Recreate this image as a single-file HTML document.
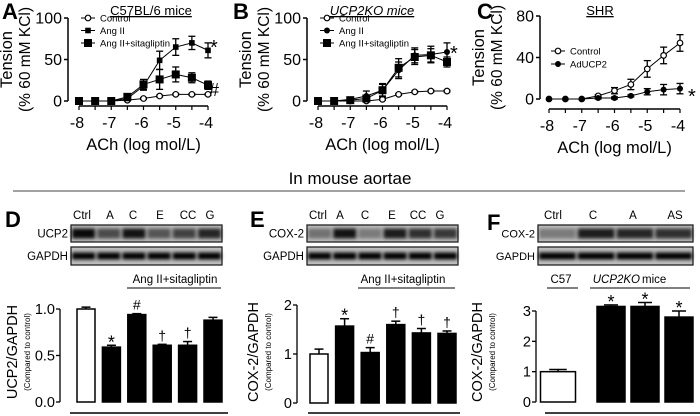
<!DOCTYPE html>
<html><head><meta charset="utf-8"><style>
body{margin:0;background:#fff}
svg{display:block;font-family:"Liberation Sans",Arial,sans-serif}
</style></head><body>
<svg id="fig" width="700" height="416" viewBox="0 0 700 416" xmlns="http://www.w3.org/2000/svg">
<defs>
<filter id="blur" x="-20%" y="-50%" width="140%" height="200%"><feGaussianBlur stdDeviation="1.8"/></filter>
</defs>
<g id="root"></g>
</svg>
<script>
// ---- Data ----
const doses = [-8,-7.5,-7,-6.5,-6,-5.5,-5,-4.5,-4];
const xTicks = [-8,-7,-6,-5,-4];
const aControl = [0,0,0,1,3,6,8,8,8];
const aControlErr = [0,0,0,1,1,1,1,1,1];
const aAng = [0,0,0,3,18,49,65,70,61];
const aAngErr = [0,0,0,2,5,11,10,8,9];
const aSita = [0,0,0,5,20,26,32,28,19];
const aSitaErr = [0,0,1,2,6,12,9,6,5];
const bControl = [0,0,0,0,2,8,11,12,12];
const bControlErr = [0,0,0,0,1,1,1,1,1];
const bAng = [0,0,2,6,13,37,55,56,59];
const bAngErr = [0,0,1,6,8,10,9,10,11];
const bSita = [0,0,1,3,13,40,53,55,47];
const bSitaErr = [0,0,1,3,7,11,9,8,6];
const cControl = [0,0,0,3,8,14,29,42,54];
const cControlErr = [0,0,0,1,3,5,8,8,8];
const cAd = [0,0,0,1,1,3,7,9,10];
const cAdErr = [0,0,0,1,1,1,3,5,5];
const abTicks = [0,50,100];
const cTicks = [0,40,80];
const dCats = ["Ctrl","A","C","E","CC","G"];
const dVals = [1.0,0.59,0.94,0.61,0.61,0.88];
const dErr = [0.02,0.02,0.01,0.01,0.04,0.03];
const dMarks = ["","*","#","†","†",""];
const dTicks = ["0.0","0.5","1.0"];
const eVals = [1.0,1.57,1.03,1.6,1.43,1.42];
const eErr = [0.1,0.15,0.1,0.07,0.09,0.05];
const eMarks = ["","*","#","†","†","†"];
const eTicks = [0,1,2];
const fCats = ["Ctrl","C","A","AS"];
const fVals = [1.0,3.15,3.15,2.8];
const fErr = [0.07,0.05,0.13,0.2];
const fMarks = ["","*","*","*"];
const fTicks = [0,1,2,3];
const dBlotTop = [0.95,0.6,0.9,0.55,0.65,0.8];
const eBlotTop = [0.4,0.9,0.35,0.85,0.75,0.7];
const fBlotTop = [0.35,0.85,0.8,0.75];

const NS="http://www.w3.org/2000/svg";
const root=document.getElementById('root');
function el(tag,attrs,parent,text){const e=document.createElementNS(NS,tag);for(const k in attrs)e.setAttribute(k,attrs[k]);if(text!==undefined)e.textContent=text;(parent||root).appendChild(e);return e;}

function lineChart(o){
  const g=el('g',{});
  
  
  const xs=v=>o.x0+(v+8)/4*(o.x1-o.x0);
  const ys=v=>o.y0-(v/o.ymax)*(o.y0-o.y1);
  const ya=el('line',{x1:o.ax,y1:o.y1,x2:o.ax,y2:o.y0,stroke:'#000','stroke-width':1.5},g);
  
  o.yt.forEach(t=>{el('line',{x1:o.ax-4,y1:ys(t),x2:o.ax,y2:ys(t),stroke:'#000','stroke-width':1.5},g);
    const tl=el('text',{x:o.ax-6,y:ys(t)+5.5,'font-size':16,'text-anchor':'end'},g,t);
    });
  const xa=el('line',{x1:xs(-8),y1:o.xay,x2:xs(-4),y2:o.xay,stroke:'#000','stroke-width':1.5},g);
  
  doses.forEach(d=>el('line',{x1:xs(d),y1:o.xay,x2:xs(d),y2:o.xay+4,stroke:'#000','stroke-width':1.2},g));
  xTicks.forEach(t=>{const tl=el('text',{x:xs(t)-2,y:o.xay+22,'font-size':16,'text-anchor':'middle'},g,t);
    });
  const xt=el('text',{x:(xs(-8)+xs(-4))/2,y:o.xay+44,'font-size':16.5,'text-anchor':'middle'},g,'ACh (log mol/L)');
  
  const yt1=el('text',{transform:`translate(${o.ylx},${(o.y0+o.y1)/2}) rotate(-90)`,'font-size':16.5,'text-anchor':'middle'},g,'Tension');
  
  const yt2=el('text',{transform:`translate(${o.ylx+18},${(o.y0+o.y1)/2}) rotate(-90)`,'font-size':15.5,'text-anchor':'middle'},g,'(% 60 mM KCl)');
  
  o.series.forEach(s=>{
    const sg=el('g',{},g);
    
    const pts=doses.map((d,i)=>xs(d)+','+ys(s.v[i])).join(' ');
    el('polyline',{points:pts,fill:'none',stroke:'#000','stroke-width':1},sg);
    doses.forEach((d,i)=>{
      if(s.e[i]>0){const x=xs(d);
        el('line',{x1:x,y1:ys(s.v[i]+s.e[i]),x2:x,y2:ys(s.v[i]-s.e[i]),stroke:'#000','stroke-width':1.3},sg);
        el('line',{x1:x-3.5,y1:ys(s.v[i]+s.e[i]),x2:x+3.5,y2:ys(s.v[i]+s.e[i]),stroke:'#000','stroke-width':1.3},sg);
        el('line',{x1:x-3.5,y1:ys(s.v[i]-s.e[i]),x2:x+3.5,y2:ys(s.v[i]-s.e[i]),stroke:'#000','stroke-width':1.3},sg);}
      drawMark(sg,s.m,xs(d),ys(s.v[i]));
    });
  });
  o.legend.forEach((l,i)=>{
    const ly=o.ly+i*o.ls;
    const lg=el('g',{},g);
    el('line',{x1:o.lx,y1:ly,x2:o.lx+14,y2:ly,stroke:'#000','stroke-width':1},lg);
    drawMark(lg,l.m,o.lx+7,ly);
    el('text',{x:o.lx+19,y:ly+3.5,'font-size':9.5},lg,l.t);
  });
  return g;
}
function drawMark(p,m,x,y){
  if(m==='open')el('circle',{cx:x,cy:y,r:2.8,fill:'#fff',stroke:'#000','stroke-width':1.2},p);
  else if(m==='dot')el('circle',{cx:x,cy:y,r:3,fill:'#000'},p);
  else if(m==='sq')el('rect',{x:x-2.8,y:y-2.8,width:5.6,height:5.6,fill:'#000'},p);
  else if(m==='big')el('rect',{x:x-4,y:y-4,width:8,height:8,fill:'#000'},p);
}

lineChart({name:'chart-a',ax:68,x0:79,x1:208,y0:101,y1:18,ymax:100,xay:106,yt:abTicks,ylx:12,
  series:[{name:'series-control',v:aControl,e:aControlErr,m:'open'},{name:'series-ang-ii',v:aAng,e:aAngErr,m:'sq'},{name:'series-ang-ii-sitagliptin',v:aSita,e:aSitaErr,m:'big'}],
  legend:[{m:'open',t:'Control'},{m:'sq',t:'Ang II'},{m:'big',t:'Ang II+sitagliptin'}],lx:81,ly:18,ls:12.5});
lineChart({name:'chart-b',ax:307,x0:318,x1:447,y0:101,y1:18,ymax:100,xay:106,yt:abTicks,ylx:251,
  series:[{name:'series-control',v:bControl,e:bControlErr,m:'open'},{name:'series-ang-ii',v:bAng,e:bAngErr,m:'dot'},{name:'series-ang-ii-sitagliptin',v:bSita,e:bSitaErr,m:'big'}],
  legend:[{m:'open',t:'Control'},{m:'dot',t:'Ang II'},{m:'big',t:'Ang II+sitagliptin'}],lx:320,ly:18,ls:12.5});
lineChart({name:'chart-c',ax:540,x0:549,x1:680,y0:99,y1:16,ymax:80,xay:109,yt:cTicks,ylx:484,
  series:[{name:'series-control',v:cControl,e:cControlErr,m:'open'},{name:'series-aducp2',v:cAd,e:cAdErr,m:'dot'}],
  legend:[{m:'open',t:'Control'},{m:'dot',t:'AdUCP2'}],lx:551,ly:51,ls:13});

function txt(x,y,s,t,attrs,name){const a=Object.assign({x:x,y:y,'font-size':s},attrs||{});const e=el('text',a,root,t);return e;}
txt(2,19,22,'A',{'font-weight':'bold'},'panel-label-a');
txt(233,19,22,'B',{'font-weight':'bold'},'panel-label-b');
txt(477,19,22,'C',{'font-weight':'bold'},'panel-label-c');
txt(151,15,13,'C57BL/6 mice',{'text-anchor':'middle','text-decoration':'underline'},'title-a');
txt(372,15,13,'UCP2KO mice',{'text-anchor':'middle','font-style':'italic','text-decoration':'underline'},'title-b');
txt(600,15,13,'SHR',{'text-anchor':'middle','text-decoration':'underline'},'title-c');
txt(210,54,20,'*',{},'sig-a-ang');
txt(209,96,18,'#',{},'sig-a-sita');
txt(450,60,20,'*',{},'sig-b');
txt(688,103,20,'*',{},'sig-c');
txt(350,184,17,'In mouse aortae',{'text-anchor':'middle'},'section-title');
el('line',{x1:13,y1:191,x2:685,y2:191,stroke:'#444','stroke-width':1});
txt(5,227,22,'D',{'font-weight':'bold'},'panel-label-d');
txt(250,227,22,'E',{'font-weight':'bold'},'panel-label-e');
txt(487,230,22,'F',{'font-weight':'bold'},'panel-label-f');

function blot(name,x,w,cats,labelTop,top,centers,lfs){
  const g=el('g',{});
  const n=cats.length;const lw=w/n;
  cats.forEach((c,i)=>{const t=el('text',{x:centers?centers[i]:x+lw*(i+0.5),y:219,'font-size':11.5,'text-anchor':'middle'},g,c);
    });
  [[225,242,labelTop,top],[247,265,'GAPDH',null]].forEach(([y0,y1,lab,vals])=>{
    el('text',{x:x-3,y:(y0+y1)/2+4,'font-size':lfs||11.5,'text-anchor':'end'},g,lab);
    el('rect',{x:x,y:y0,width:w,height:y1-y0,fill:'#bdbdbd',stroke:'#222','stroke-width':1.3},g);
    cats.forEach((c,i)=>{const a=vals?vals[i]:1;
      el('rect',{x:x+lw*i+1,y:(y0+y1)/2-(vals?5:3.5),width:lw-2,height:vals?10:7,fill:'#000',opacity:a,filter:'url(#blur)'},g);});
  });
}
blot('western-blot-d',71,151,dCats,'UCP2',dBlotTop,[82,110,133,160,188,210]);
blot('western-blot-e',307,151,dCats,'COX-2',eBlotTop,[318,340,365,392,418,440]);
blot('western-blot-f',538,155,fCats,'COX-2',fBlotTop,[553,593,633,675],11);
txt(175,283,11.5,'Ang II+sitagliptin',{'text-anchor':'middle'},'group-label-d');
el('line',{x1:127,y1:288,x2:221,y2:288,stroke:'#000','stroke-width':1});
txt(403,283,11.5,'Ang II+sitagliptin',{'text-anchor':'middle'},'group-label-e');
el('line',{x1:358,y1:288,x2:455,y2:288,stroke:'#000','stroke-width':1});
txt(561,283,11.5,'C57',{'text-anchor':'middle'},'group-label-c57');
el('line',{x1:547,y1:288,x2:578,y2:288,stroke:'#000','stroke-width':1});
txt(640,283,11.5,'UCP2KO',{'text-anchor':'end','font-style':'italic'},'group-label-ucp2ko');
txt(642,283,11.5,'mice',{},'group-label-mice');
el('line',{x1:590,y1:288,x2:690,y2:288,stroke:'#000','stroke-width':1});

function barChart(o){
  const g=el('g',{});
  const ys=v=>o.y0-(v/o.ymax)*(o.y0-o.yTop);
  const ya=el('line',{x1:o.ax,y1:ys(o.ymax),x2:o.ax,y2:o.y0,stroke:'#000','stroke-width':1.3},g);
  
  o.ticks.forEach(t=>{const v=parseFloat(t);
    el('line',{x1:o.ax-4,y1:ys(v),x2:o.ax,y2:ys(v),stroke:'#000','stroke-width':1.3},g);
    const tl=el('text',{x:o.ax-5,y:ys(v)+5,'font-size':14.5,'text-anchor':'end'},g,t);
    });
  const yt=el('text',{transform:`translate(${o.ylx},${o.yc}) rotate(-90)`,'font-size':14.5,'text-anchor':'middle'},g,o.ylab);
  
  const ys2=el('text',{transform:`translate(${o.ylx+13},${o.yc}) rotate(-90)`,'font-size':8,'text-anchor':'middle'},g,'(Compared to control)');
  
  o.vals.forEach((v,i)=>{
    const cx=o.cx(i),w=o.bw(i);
    const b=el('rect',{x:cx-w/2,y:ys(v),width:w,height:o.y0-ys(v),fill:i===0?'#fff':'#000',stroke:'#000','stroke-width':1.5},g);
    
    const et=ys(v+o.err[i]);
    el('line',{x1:cx,y1:et,x2:cx,y2:ys(v),stroke:'#000','stroke-width':1.5},g);
    el('line',{x1:cx-w/4,y1:et,x2:cx+w/4,y2:et,stroke:'#000','stroke-width':1.5},g);
    if(o.marks[i]){const m=el('text',{x:cx,y:et-(o.marks[i]==='*'?-3:4),'font-size':o.marks[i]==='*'?18:14,'text-anchor':'middle'},g,o.marks[i]);
      }
  });
  el('line',{x1:o.bx0,y1:413,x2:o.bx1,y2:413,stroke:'#000','stroke-width':1.5},g);
}
barChart({name:'bar-chart-d',ax:60,y0:402,yTop:309,ymax:1.0,ticks:dTicks,vals:dVals,err:dErr,marks:dMarks,
  cx:i=>86+i*25.4,bw:i=>18,ylab:'UCP2/GAPDH',ylx:17,yc:352,bx0:70,bx1:228});
barChart({name:'bar-chart-e',ax:297,y0:403,yTop:305,ymax:2,ticks:eTicks.map(String),vals:eVals,err:eErr,marks:eMarks,
  cx:i=>319+i*25.6,bw:i=>18,ylab:'COX-2/GAPDH',ylx:258,yc:352,bx0:308,bx1:460});
barChart({name:'bar-chart-f',ax:536,y0:402,yTop:311,ymax:3,ticks:fTicks.map(String),vals:fVals,err:fErr,marks:fMarks,
  cx:i=>i===0?558:611+(i-1)*34,bw:i=>i===0?35:28,ylab:'COX-2/GAPDH',ylx:482,yc:352,bx0:545,bx1:700});
</script>
</body></html>
